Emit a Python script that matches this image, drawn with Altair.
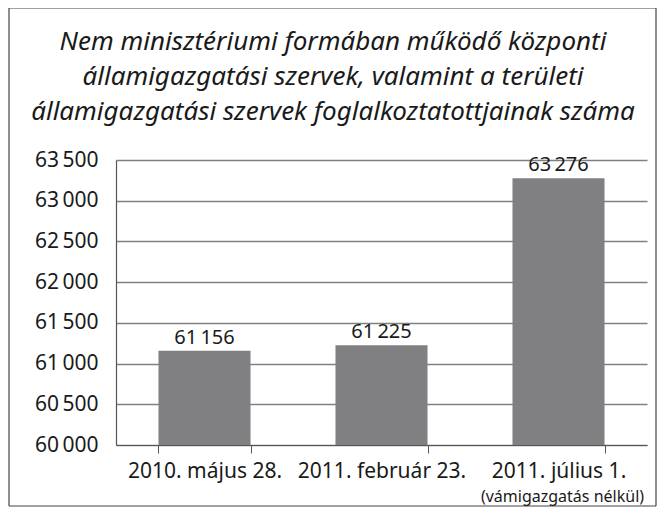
import altair as alt
import pandas as pd

categories = ["2010. május 28.", "2011. február 23.", "2011. július 1."]
values = [61156, 61225, 63276]
notes = ["", "", "(vámigazgatás nélkül)"]
title_lines = [
    "Nem minisztériumi formában működő központi",
    "államigazgatási szervek, valamint a területi",
    "államigazgatási szervek foglalkoztatottjainak száma",
]
y_ticks = [60000, 60500, 61000, 61500, 62000, 62500, 63000, 63500]

df = pd.DataFrame({"cat": categories, "val": values, "note": notes})

FONT = "Noto Sans"
W, H = 531, 285
GRAY = "#808083"
TXT = "#1a1a1a"

x = alt.X("cat:N", sort=categories, title=None,
          scale=alt.Scale(paddingInner=0.48, paddingOuter=0.24),
          axis=alt.Axis(labelAngle=0, labelFontSize=21, labelFont=FONT, labelColor=TXT,
                        labelPadding=7, tickBand="extent", tickSize=8, tickColor="#555",
                        domainColor="#555", domainWidth=1.2))
y = alt.Y("val:Q", title=None,
          scale=alt.Scale(domain=[60000, 63500], zero=False, nice=False),
          axis=alt.Axis(values=y_ticks, labelFontSize=21, labelFont=FONT, labelColor=TXT,
                        labelExpr="replace(format(datum.value, ',d'), ',', '\u2009')",
                        ticks=False, labelPadding=18, grid=True, gridColor="#808080",
                        gridWidth=1.5, domainColor="#555", domainWidth=1.2))

base = alt.Chart(df)
bars = base.mark_bar(color=GRAY).encode(x=x, y=y, y2=alt.datum(60000))
labels = base.transform_calculate(
    lbl="replace(format(datum.val, ',d'), ',', '\u2009')"
).mark_text(baseline="bottom", dy=-3, fontSize=20, font=FONT, color=TXT).encode(
    x=alt.X("cat:N", sort=categories),
    y="val:Q",
    text="lbl:N",
)
note = base.mark_text(baseline="middle", fontSize=16, font=FONT, color=TXT, dx=4).encode(
    x=alt.X("cat:N", sort=categories),
    y=alt.value(H + 52),
    text="note:N",
)
one = alt.Chart(pd.DataFrame({"a": [0]}))
fx0, fx1, fy0, fy1 = -107, W + 9, -152, H + 61
frame_top = one.mark_rule(color="#444", strokeWidth=1.2).encode(x=alt.value(fx0), x2=alt.value(fx1), y=alt.value(fy0))
frame_bot = one.mark_rule(color="#444", strokeWidth=1.2).encode(x=alt.value(fx0), x2=alt.value(fx1), y=alt.value(fy1))
frame_l = one.mark_rule(color="#444", strokeWidth=1.2).encode(x=alt.value(fx0), y=alt.value(fy0), y2=alt.value(fy1))
frame_r = one.mark_rule(color="#444", strokeWidth=1.2).encode(x=alt.value(fx1), y=alt.value(fy0), y2=alt.value(fy1))
title = one.mark_text(fontSize=26, font=FONT, fontStyle="italic", color=TXT,
                      lineHeight=35, baseline="alphabetic", align="center").encode(
    x=alt.value(217), y=alt.value(-110), text=alt.value(title_lines)
)

chart = alt.layer(frame_top, frame_bot, frame_l, frame_r, bars, labels, note, title).properties(
    width=W, height=H,
    autosize=alt.AutoSizeParams(type="none"),
    padding={"left": 108, "top": 152, "right": 11, "bottom": 62},
).configure_view(stroke=None)

chart.save("out.html", embed_options={"renderer": "svg", "actions": False})
